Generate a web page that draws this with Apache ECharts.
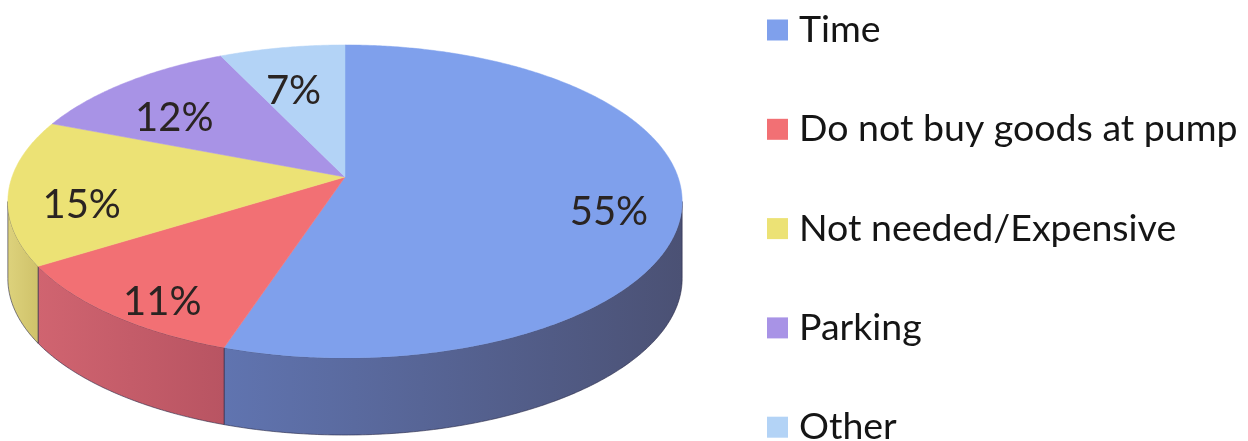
<!DOCTYPE html>
<html><head><meta charset="utf-8">
<script src="https://cdn.jsdelivr.net/npm/echarts@6/dist/echarts.min.js"></script>
<style>html,body{margin:0;padding:0;background:#fff}#c{width:1248px;height:441px}</style>
</head><body><div id="c"></div>
<script>
// ---- data ----
const categories = ['Time', 'Do not buy goods at pump', 'Not needed/Expensive', 'Parking', 'Other'];
const values = [55, 11, 15, 12, 7];
const topColors = ['#7fa0ec', '#f27074', '#ece275', '#a893e6', '#b3d3f6'];
const sideColorsA = ['#6074b0', '#d06470', '#ddd27c', '#8f7ccc', '#98b6da'];
const sideColorsB = ['#4b5174', '#b85462', '#cfc26a', '#7b69b6', '#86a4c8'];

// ---- projection geometry ----
const G = { cx: 345, cy: 177, a: 333, b: 152.7, p: 0.1565, depth: 77 };
const LABEL_FONT = 40, LABEL_FAMILY = 'Lato';
const total = values.reduce((s, v) => s + v, 0);
const starts = [];
(function () { let acc = 0; values.forEach(v => { starts.push(acc / total * Math.PI * 2); acc += v; }); })();

const mctx = document.createElement('canvas').getContext('2d');
function textWidth(t) { mctx.font = LABEL_FONT + 'px ' + LABEL_FAMILY; return mctx.measureText(t).width; }

function proj(theta, f, dz) {
  const X = f * Math.sin(theta), Y = f * Math.cos(theta);
  const d = 1 + G.p * Y;
  return [G.cx + G.a * X / d, G.cy - G.b * Y / d + (dz || 0)];
}
function arc(t0, t1, dz) {
  const pts = [];
  const n = Math.max(2, Math.ceil((t1 - t0) / (Math.PI / 360)));
  for (let k = 0; k <= n; k++) pts.push(proj(t0 + (t1 - t0) * k / n, 1, dz));
  return pts;
}
const sideL = Math.acos(-G.p), sideR = Math.PI * 2 - Math.acos(-G.p);

function renderItem(params, api) {
  const i = params.dataIndex;
  const v = api.value(0);
  const t0 = starts[i], t1 = t0 + v / total * Math.PI * 2;
  const children = [];
  // side wall
  const s0 = Math.max(t0, sideL), s1 = Math.min(t1, sideR);
  if (s1 > s0) {
    const topArc = arc(s0, s1, 0);
    const botArc = arc(s0, s1, G.depth).reverse();
    children.push({
      type: 'polygon', z2: 1,
      shape: { points: topArc.concat(botArc) },
      style: {
        fill: { type: 'linear', x: 0, y: 0, x2: 1, y2: 0,
          colorStops: [{ offset: 0, color: sideColorsA[i] }, { offset: 1, color: sideColorsB[i] }] },
        stroke: 'rgba(40,40,70,0.6)', lineWidth: 1
      }
    });
  }
  // top face
  const pts = [proj(0, 0, 0)].concat(arc(t0, t1, 0));
  children.push({
    type: 'polygon', z2: 10,
    shape: { points: pts },
    style: { fill: topColors[i], stroke: topColors[i], lineWidth: 0.5 }
  });
  // label ("inside end")
  const mid = (t0 + t1) / 2;
  const txt = Math.round(v / total * 100) + '%';
  const A = proj(mid, 0.9, 16);
  const w = textWidth(txt), h = LABEL_FONT * 0.8;
  const lx = A[0] - Math.sin(mid) * w / 2;
  const ly = A[1] + Math.cos(mid) * h / 2;
  children.push({
    type: 'text', z2: 20,
    style: {
      text: txt, x: lx, y: ly, align: 'center', verticalAlign: 'middle',
      fill: '#2a2422', fontSize: LABEL_FONT, fontFamily: LABEL_FAMILY
    }
  });
  return { type: 'group', children };
}

const chart = echarts.init(document.getElementById('c'), null, { renderer: 'canvas' });
chart.setOption({
  animation: false,
  backgroundColor: '#ffffff',
  legend: {
    orient: 'vertical', left: 767, top: 11, height: 470, padding: 0,
    icon: 'rect', itemWidth: 21, itemHeight: 21, itemGap: 61.3,
    selectedMode: false,
    textStyle: { fontSize: 37.5, fontFamily: 'Lato', color: '#151515', padding: [0, 0, 0, 6] },
    data: categories
  },
  series: [
    {
      type: 'pie', radius: [0, 0], center: [-100, -100], silent: true,
      label: { show: false }, labelLine: { show: false },
      data: categories.map((c, i) => ({ name: c, value: values[i], itemStyle: { color: topColors[i] } }))
    },
    {
      type: 'custom', coordinateSystem: 'none', silent: true,
      renderItem: renderItem,
      data: values.map((v, i) => ({ name: categories[i], value: [v] }))
    }
  ]
});
</script>
</body></html>
